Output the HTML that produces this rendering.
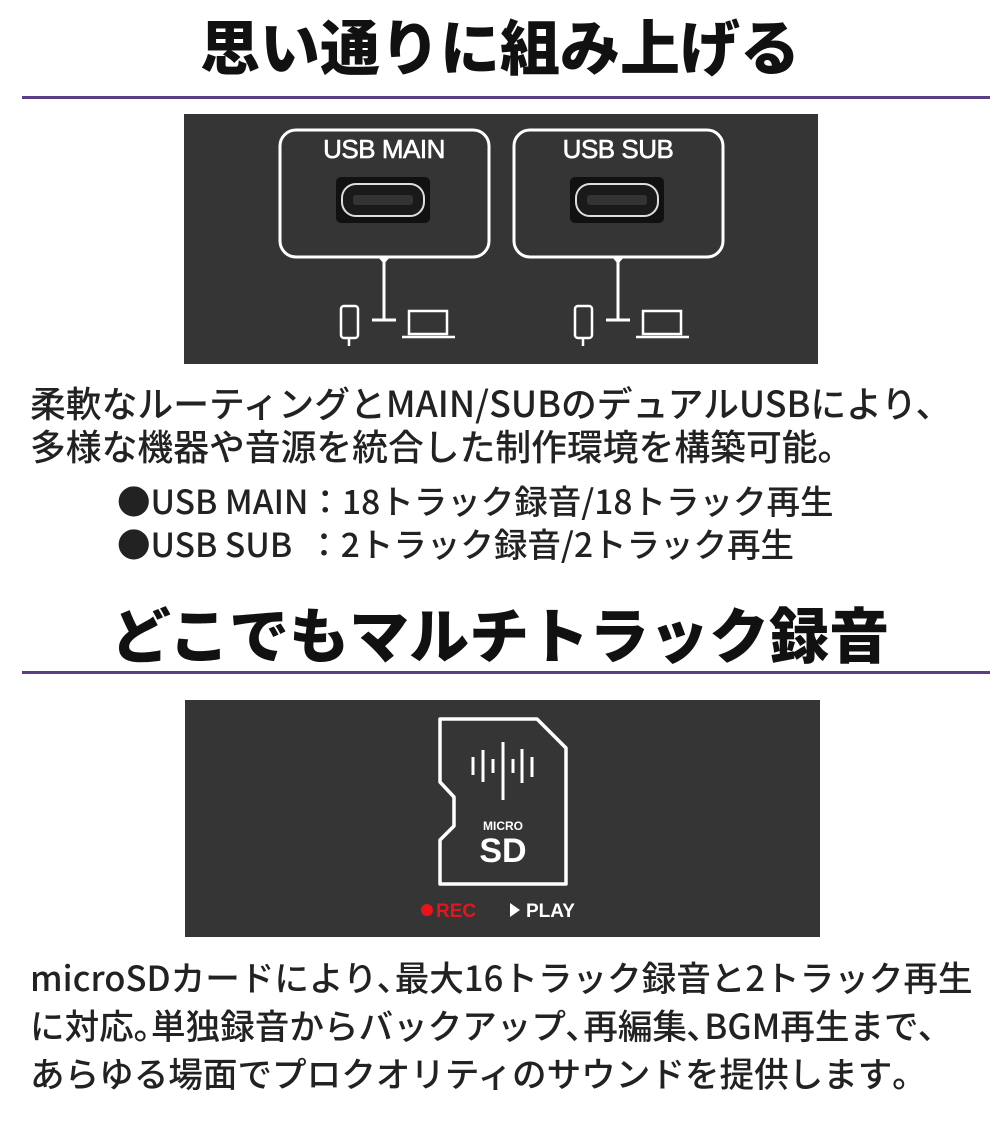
<!DOCTYPE html>
<html><head><meta charset="utf-8"><style>
body{margin:0;width:1000px;height:1126px;background:#fff;position:relative;overflow:hidden;font-family:"Liberation Sans","Noto Sans CJK JP",sans-serif;color:#222}
.t{position:absolute;left:0;width:1000px;text-align:center;font-weight:900;font-size:60px;color:#111;font-family:"Noto Sans CJK JP",sans-serif}
.hr{position:absolute;left:22px;width:968px;height:3px;background:#5b3f86}
.p{position:absolute;white-space:nowrap;font-family:"Noto Sans CJK JP",sans-serif;color:#222;font-weight:500}
</style></head><body>
<div class="t" style="top:9px;line-height:72px">思い通りに組み上げる</div>
<div class="hr" style="top:96px"></div>
<svg style="position:absolute;left:184px;top:114px" width="634" height="250" viewBox="184 114 634 250">
<rect x="184" y="114" width="634" height="250" fill="#353535"/>
<g fill="none" stroke="#fff" stroke-width="3">
<rect x="280" y="130" width="209" height="127" rx="16"/>
<rect x="514" y="130" width="209" height="127" rx="16"/>
<path d="M384 257V320M372 320H396M618 257V320M606 320H630"/>
<rect x="341" y="306" width="17" height="32" rx="3" stroke-width="2.5"/>
<rect x="575" y="306" width="17" height="32" rx="3" stroke-width="2.5"/>
<rect x="409" y="311" width="38" height="23" stroke-width="2.5"/>
<rect x="643" y="311" width="38" height="23" stroke-width="2.5"/>
<path d="M349 338V346M583 338V346M402 337H455M636 337H689" stroke-width="2.5"/>
</g>
<path d="M378 257L384 264L390 257ZM612 257L618 264L624 257Z" fill="#fff"/>
<g>
<rect x="336" y="177" width="94" height="46" rx="5" fill="#111"/>
<rect x="342" y="184" width="82" height="32" rx="14" fill="#1a1a1a" stroke="#ddd" stroke-width="2"/>
<rect x="353" y="195" width="60" height="10" rx="3" fill="#333"/>
<rect x="570" y="177" width="94" height="46" rx="5" fill="#111"/>
<rect x="576" y="184" width="82" height="32" rx="14" fill="#1a1a1a" stroke="#ddd" stroke-width="2"/>
<rect x="587" y="195" width="60" height="10" rx="3" fill="#333"/>
</g>
<text x="384" y="158" fill="#fff" stroke="#fff" stroke-width="0.6" font-size="26" font-family="Liberation Sans" text-anchor="middle" letter-spacing="-0.5">USB MAIN</text>
<text x="618" y="158" fill="#fff" stroke="#fff" stroke-width="0.6" font-size="26" font-family="Liberation Sans" text-anchor="middle" letter-spacing="-0.5">USB SUB</text>
</svg>
<div class="p" style="left:30px;top:381px;line-height:43px;font-size:35.8px">柔軟なルーティングとMAIN/SUBのデュアルUSBにより、<br>多様な機器や音源を統合した制作環境を構築可能。</div>
<div class="p" style="left:117px;top:478px;line-height:43px;font-size:33.5px">●USB MAIN：18トラック録音/18トラック再生<br>●USB SUB &nbsp;：2トラック録音/2トラック再生</div>
<div class="t" style="top:597px;line-height:72px">どこでもマルチトラック録音</div>
<div class="hr" style="top:671px"></div>
<svg style="position:absolute;left:185px;top:700px" width="635" height="237" viewBox="185 700 635 237">
<rect x="185" y="700" width="635" height="237" fill="#353535"/>
<path d="M440 719H537L566 748V884H440V840L454 826V797L440 782Z" fill="none" stroke="#fff" stroke-width="3.5" stroke-linejoin="round"/>
<g stroke="#fff" stroke-width="3">
<path d="M473 757V775M483 750V782M493 759V773M503 742V800M513 759V773M522 749V783M532 757V777"/>
</g>
<text x="503" y="830" fill="#fff" font-size="12" font-weight="bold" font-family="Liberation Sans" text-anchor="middle">MICRO</text>
<text x="503" y="862" fill="#fff" font-size="34" font-weight="bold" font-family="Liberation Sans" text-anchor="middle">SD</text>
<circle cx="427" cy="910" r="6" fill="#e8141c"/>
<text x="436" y="917" fill="#e8141c" font-size="19" font-weight="bold" font-family="Liberation Sans">REC</text>
<path d="M510 903L520 910L510 917Z" fill="#fff"/>
<text x="526" y="917" fill="#fff" font-size="19" font-weight="bold" font-family="Liberation Sans">PLAY</text>
</svg>
<div class="p" style="left:30px;top:952px;line-height:48px;font-size:34.6px">microSDカードにより､最大16トラック録音と2トラック再生<br>に対応｡単独録音からバックアップ､再編集､BGM再生まで､<br>あらゆる場面でプロクオリティのサウンドを提供します｡</div>
</body></html>
